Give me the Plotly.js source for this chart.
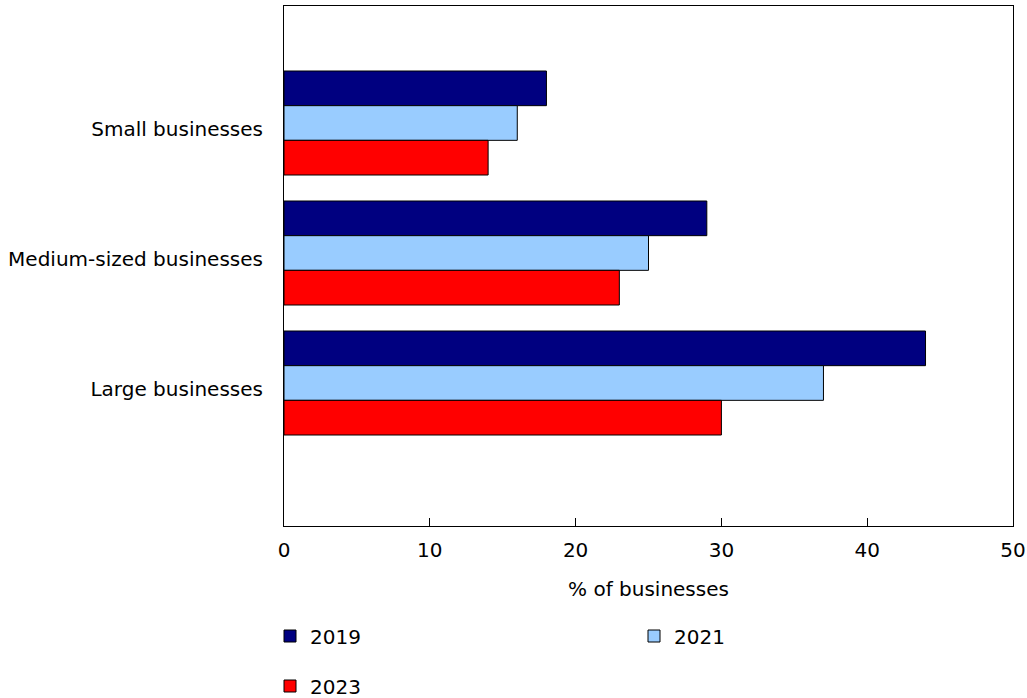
<!DOCTYPE html>
<html>
<head>
<meta charset="utf-8">
<script src="https://cdn.plot.ly/plotly-3.0.1.min.js"></script>
<style>html,body{margin:0;padding:0;background:#fff;}#chart{width:1027px;height:698px;}</style>
</head>
<body>
<div id="chart"></div>
<script>
const categories = ["Small businesses", "Medium-sized businesses", "Large businesses"];
const years = ["2019", "2021", "2023"];
const values2019 = [18, 29, 44];
const values2021 = [16, 25, 37];
const values2023 = [14, 23, 30];
const xTicks = [0, 10, 20, 30, 40, 50];
const colors = ["#000080", "#99CCFF", "#FF0000"];

const FONT = "DejaVu Sans, Verdana, sans-serif";
const FS = 20;
const series = [values2019, values2021, values2023];
const legendIds = ["legend", "legend2", "legend3"];
const catIndex = categories.map((c, k) => k);

const traces = series.map((vals, i) => ({
  type: "bar",
  orientation: "h",
  name: years[i],
  x: vals,
  y: catIndex,
  marker: {color: colors[i], line: {color: "#000", width: 1}},
  legend: legendIds[i],
  hovertext: categories,
  hoverinfo: "x+name+text"
}));

// label-only carrier for the category axis (draws nothing)
traces.push({
  type: "scatter",
  mode: "none",
  x: values2023,
  y: catIndex,
  yaxis: "y2",
  showlegend: false,
  hoverinfo: "skip"
});

const legendBase = {
  orientation: "h",
  font: {family: FONT, size: FS, color: "#000"},
  xanchor: "left",
  yanchor: "middle",
  bgcolor: "rgba(0,0,0,0)",
  itemwidth: 30
};

const PW = 729, PH = 520, AXB = 526;
const legendDx = -14 / PW;
const labelShift = 6 / 130;

const layout = {
  width: 1027,
  height: 698,
  margin: {l: 284, r: 14, t: 6, b: 172, autoexpand: false},
  paper_bgcolor: "#fff",
  plot_bgcolor: "#fff",
  font: {family: FONT, size: FS, color: "#000"},
  barmode: "group",
  bargap: 0.2,
  bargroupgap: 0,
  xaxis: {
    range: [0, 50],
    tickvals: xTicks,
    ticktext: xTicks.map(String),
    ticks: "inside",
    ticklen: 8,
    tickwidth: 1,
    tickcolor: "#000",
    showline: true,
    linecolor: "#000",
    linewidth: 1,
    mirror: true,
    showgrid: false,
    zeroline: false,
    automargin: false,
    ticklabelstandoff: 6,
    title: {text: "% of businesses", font: {family: FONT, size: FS}, standoff: 20}
  },
  yaxis: {
    type: "linear",
    range: [3.1, -0.9],
    showline: true,
    linecolor: "#000",
    linewidth: 1,
    mirror: true,
    showgrid: false,
    zeroline: false,
    automargin: false,
    ticks: "",
    showticklabels: false
  },
  yaxis2: {
    type: "linear",
    overlaying: "y",
    side: "left",
    anchor: "x",
    range: [3.1 - labelShift, -0.9 - labelShift],
    tickvals: catIndex,
    ticktext: categories,
    showline: false,
    showgrid: false,
    zeroline: false,
    automargin: false,
    ticks: "",
    ticklabelstandoff: 20
  },
  legend: Object.assign({}, legendBase, {x: legendDx, y: (AXB - 636) / PH}),
  legend2: Object.assign({}, legendBase, {x: (648 - 284) / PW + legendDx, y: (AXB - 636) / PH}),
  legend3: Object.assign({}, legendBase, {x: legendDx, y: (AXB - 686) / PH}),
  showlegend: true
};

Plotly.newPlot("chart", traces, layout, {displayModeBar: false, staticPlot: true});
</script>
</body>
</html>
